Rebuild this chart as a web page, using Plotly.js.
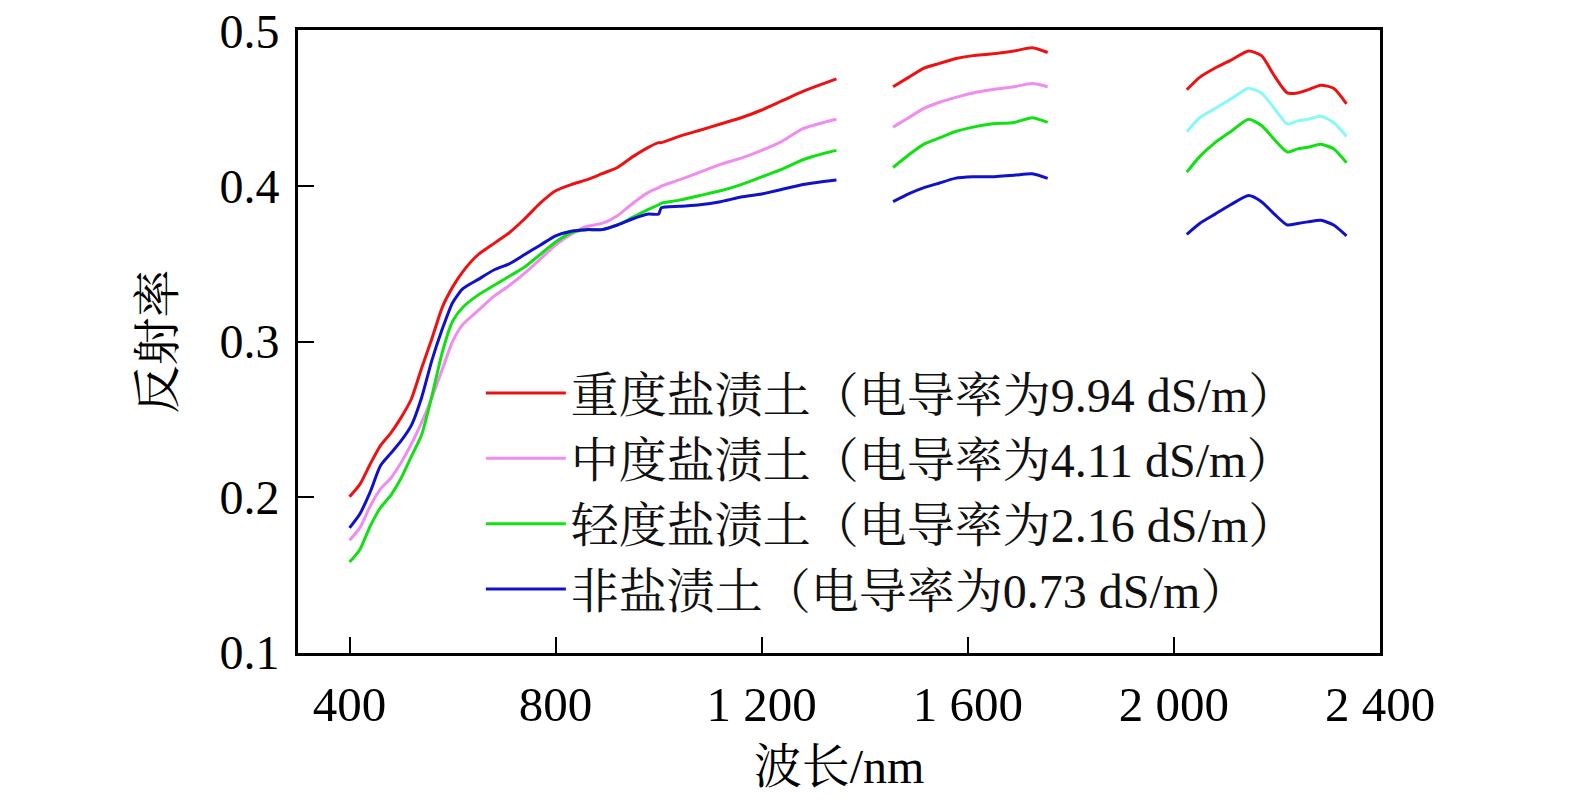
<!DOCTYPE html>
<html>
<head>
<meta charset="utf-8">
<script src="https://cdn.plot.ly/plotly-3.0.1.min.js"></script>
<style>
  html, body { margin: 0; padding: 0; background: #fff; }
  #chart { width: 1575px; height: 805px; }
</style>
</head>
<body>
<div id="chart"></div>
<script>
// wavelength grids (nm) for the three measured bands
var wl1 = [400, 420, 440, 460, 480, 500, 520, 540, 560, 580, 600, 620, 650, 680, 710, 740, 770, 800,
           830, 860, 890, 920, 950, 980, 1000, 1005, 1040, 1080, 1120, 1160, 1200, 1240, 1280, 1320, 1345];
var wl2 = [1455, 1485, 1515, 1545, 1575, 1610, 1645, 1690, 1725, 1755];
var wl3 = [2025, 2050, 2080, 2110, 2145, 2170, 2195, 2220, 2240, 2260, 2285, 2310, 2335];

// 重度盐渍土
var heavy1 = [0.200, 0.208, 0.221, 0.233, 0.241, 0.251, 0.263, 0.283, 0.302, 0.322, 0.335, 0.345, 0.356, 0.363, 0.370, 0.379, 0.389, 0.397,
              0.401, 0.404, 0.408, 0.412, 0.419, 0.425, 0.428, 0.428, 0.432, 0.436, 0.440, 0.444, 0.449, 0.455, 0.461, 0.466, 0.469];
var heavy2 = [0.464, 0.470, 0.476, 0.479, 0.482, 0.484, 0.485, 0.487, 0.489, 0.486];
var heavy3 = [0.462, 0.470, 0.476, 0.481, 0.487, 0.484, 0.471, 0.460, 0.460, 0.462, 0.465, 0.463, 0.453];

// 中度盐渍土
var medium1 = [0.172, 0.180, 0.194, 0.205, 0.212, 0.222, 0.234, 0.248, 0.264, 0.282, 0.300, 0.311, 0.320, 0.329, 0.336, 0.344, 0.353, 0.362,
               0.369, 0.374, 0.376, 0.381, 0.389, 0.396, 0.399, 0.400, 0.404, 0.409, 0.414, 0.418, 0.423, 0.429, 0.437, 0.441, 0.443];
var medium2 = [0.438, 0.444, 0.450, 0.454, 0.457, 0.460, 0.462, 0.464, 0.466, 0.464];
var medium3 = [0.435, 0.444, 0.450, 0.456, 0.463, 0.460, 0.450, 0.440, 0.442, 0.443, 0.445, 0.441, 0.432];

// 轻度盐渍土
var light1 = [0.158, 0.166, 0.181, 0.193, 0.201, 0.212, 0.226, 0.240, 0.265, 0.293, 0.313, 0.322, 0.330, 0.336, 0.342, 0.348, 0.356, 0.364,
              0.370, 0.372, 0.372, 0.375, 0.380, 0.385, 0.388, 0.389, 0.391, 0.394, 0.397, 0.401, 0.406, 0.411, 0.417, 0.421, 0.423];
var light2 = [0.412, 0.420, 0.427, 0.431, 0.435, 0.438, 0.440, 0.441, 0.444, 0.441];
var light3 = [0.409, 0.419, 0.428, 0.435, 0.443, 0.439, 0.430, 0.422, 0.424, 0.425, 0.427, 0.424, 0.415];

// 非盐渍土
var none1 = [0.180, 0.189, 0.203, 0.220, 0.228, 0.236, 0.246, 0.264, 0.288, 0.308, 0.325, 0.334, 0.340, 0.346, 0.350, 0.356, 0.362, 0.368,
             0.371, 0.372, 0.372, 0.375, 0.379, 0.382, 0.382, 0.386, 0.387, 0.388, 0.390, 0.393, 0.395, 0.398, 0.401, 0.403, 0.404];
var none2 = [0.390, 0.395, 0.399, 0.402, 0.405, 0.406, 0.406, 0.407, 0.408, 0.405];
var none3 = [0.369, 0.376, 0.382, 0.388, 0.394, 0.390, 0.382, 0.375, 0.376, 0.377, 0.378, 0.375, 0.368];

var names = [
  '重度盐渍土（电导率为9.94 dS/m）',
  '中度盐渍土（电导率为4.11 dS/m）',
  '轻度盐渍土（电导率为2.16 dS/m）',
  '非盐渍土（电导率为0.73 dS/m）'
];
var colors = ['#ee1111', '#f08cf0', '#11e011', '#1111cc'];
var band3Colors = ['#ee1111', '#88f8f8', '#11e011', '#1111cc']; // 中度 band 3 is drawn cyan in the figure

var tickVals = [400, 800, 1200, 1600, 2000, 2400];
var tickText = ['400', '800', '1 200', '1 600', '2 000', '2 400'];

var series = [
  [heavy1, heavy2, heavy3],
  [medium1, medium2, medium3],
  [light1, light2, light3],
  [none1, none2, none3]
];

// join bands 1 and 2 with a gap
function joinBands(a, b, ya, yb) {
  return {
    x: a.concat([null], b),
    y: ya.concat([null], yb)
  };
}

var data = [];
series.forEach(function (s, i) {
  var j = joinBands(wl1, wl2, s[0], s[1]);
  data.push({
    type: 'scatter', mode: 'lines', name: names[i],
    x: j.x, y: j.y, connectgaps: false,
    line: {color: colors[i], width: 3, shape: 'spline', smoothing: 0.6},
    legendgroup: 'g' + i
  });
});
series.forEach(function (s, i) {
  data.push({
    type: 'scatter', mode: 'lines', name: names[i], showlegend: false,
    x: wl3, y: s[2],
    line: {color: band3Colors[i], width: 3, shape: 'spline', smoothing: 0.6},
    legendgroup: 'g' + i
  });
});

var fontFamily = '"Liberation Serif", "Times New Roman", "Noto Serif CJK SC", "Noto Sans CJK SC", serif';

var layout = {
  width: 1575, height: 805,
  margin: {l: 298, r: 195, t: 30, b: 152},
  paper_bgcolor: '#fff', plot_bgcolor: '#fff',
  font: {family: fontFamily, color: '#000'},
  showlegend: true,
  legend: {
    x: 0.169, y: 0.478, xanchor: 'left', yanchor: 'top',
    bgcolor: 'rgba(0,0,0,0)', borderwidth: 0,
    font: {size: 48, family: fontFamily, color: '#111'},
    itemwidth: 80, tracegroupgap: 0
  },
  xaxis: {
    range: [300, 2400],
    tickmode: 'array', tickvals: tickVals, ticktext: tickText,
    ticks: 'inside', ticklen: 16, tickwidth: 2, tickcolor: '#000',
    showline: true, linewidth: 3, linecolor: '#000', mirror: true,
    showgrid: false, zeroline: false,
    ticklabelstandoff: 6, ticklabeloverflow: 'allow',
    tickfont: {size: 49, family: fontFamily},
    title: {text: '波长/nm', font: {size: 48, family: fontFamily}, standoff: 19}
  },
  yaxis: {
    range: [0.0995, 0.5005],
    tickmode: 'array', tickvals: [0.1, 0.2, 0.3, 0.4, 0.5],
    ticktext: ['0.1', '0.2', '0.3', '0.4', '0.5'],
    ticks: 'inside', ticklen: 16, tickwidth: 2, tickcolor: '#000',
    showline: true, linewidth: 3, linecolor: '#000', mirror: true,
    showgrid: false, zeroline: false,
    ticklabelstandoff: 6, ticklabeloverflow: 'allow',
    tickfont: {size: 48, family: fontFamily},
    title: {text: '反射率', font: {size: 48, family: fontFamily}, standoff: 30}
  }
};

Plotly.newPlot('chart', data, layout, {staticPlot: true});
</script>
</body>
</html>
